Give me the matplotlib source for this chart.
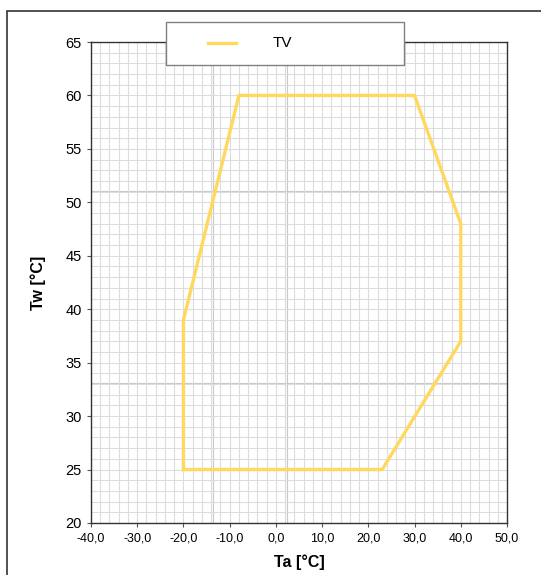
import matplotlib.pyplot as plt
from matplotlib.patches import Rectangle
from matplotlib.lines import Line2D
from matplotlib.ticker import MultipleLocator

plt.rcParams['font.family'] = ['Liberation Sans', 'DejaVu Sans']

W, H = 541, 575

# operating envelope (Ta, Tw)
ta = [-20, -20, -8, 30, 40, 40, 23, -20]
tw = [25, 39, 60, 60, 48, 37, 25, 25]

x_ticks = [-40, -30, -20, -10, 0, 10, 20, 30, 40, 50]
x_labels = ['-40,0', '-30,0', '-20,0', '-10,0', '0,0', '10,0', '20,0', '30,0', '40,0', '50,0']
y_ticks = [20, 25, 30, 35, 40, 45, 50, 55, 60, 65]

fig = plt.figure(figsize=(W / 100, H / 100), dpi=100)
ax = fig.add_axes([91 / W, 1 - 523 / H, (507 - 91) / W, (523 - 42) / H])

# outer frame
fig.patches.append(Rectangle((7 / W, -0.05), 1.0, 1 - 11 / H + 0.05,
                             transform=fig.transFigure, fill=False,
                             edgecolor='#333333', linewidth=1.2))

ax.xaxis.set_minor_locator(MultipleLocator(2))
ax.yaxis.set_minor_locator(MultipleLocator(1))
ax.grid(which='both', color='#dcdcdc', linewidth=0.8)
for xv in [-13.6, 2.4]:
    ax.axvline(xv, color='#c8c8c8', linewidth=0.8, zorder=1)
for yv in [51.1, 33.1]:
    ax.axhline(yv, color='#c8c8c8', linewidth=0.8, zorder=1)

line, = ax.plot(ta, tw, color='#FFD85E', linewidth=2.4, label='TV', zorder=3)

ax.set_xlim(-40, 50)
ax.set_ylim(20, 65)
ax.set_xticks(x_ticks)
ax.set_xticklabels(x_labels, fontsize=9)
ax.set_yticks(y_ticks)
ax.set_yticklabels([str(v) for v in y_ticks], fontsize=10.5)
ax.tick_params(which='minor', length=0)
ax.tick_params(which='major', length=3, width=0.8, color='#555555')
ax.tick_params(axis='x', pad=4)

ax.set_xlabel('Ta [°C]', fontsize=11.5, fontweight='bold', labelpad=7)
ax.set_ylabel('Tw [°C]', fontsize=11.5, fontweight='bold', labelpad=14)

for s in ax.spines.values():
    s.set_color('#333333')
    s.set_linewidth(1.0)

# legend box drawn by hand to match the original placement
fig.patches.append(Rectangle((166 / W, 1 - 65 / H), (404 - 166) / W, 43 / H,
                             transform=fig.transFigure, facecolor='white',
                             edgecolor='#808080', linewidth=1.0, zorder=5))
fig.lines.append(Line2D([208 / W, 236 / W], [1 - 43 / H, 1 - 43 / H],
                        transform=fig.transFigure, color=line.get_color(),
                        linewidth=2.4, zorder=6))
fig.text(273 / W, 1 - 43 / H, line.get_label(), fontsize=11,
         va='center', ha='left', zorder=6)

fig.savefig('out.png', dpi=100)
